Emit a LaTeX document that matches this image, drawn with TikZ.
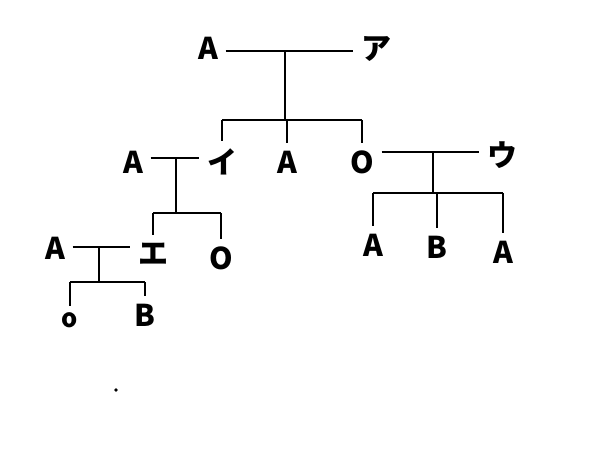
\documentclass[tikz,border=0pt]{standalone}
\usepackage{fontspec}
\newfontfamily\jpfont{Noto Sans CJK JP}
\usetikzlibrary{calc}

\begin{document}
\begin{tikzpicture}[x=1pt,y=-1pt,line width=1.6pt,
    person/.style={font=\jpfont\bfseries\fontsize{30}{30}\selectfont,inner sep=7pt}]
      \useasboundingbox (0,0) rectangle (600,468);

      \node[person] (g1) at (208,48) {A};
      \node[person] (g2) at (376,49) {ア};
      \node[person] (c1) at (222,162) {イ};
      \node[person] (c2) at (287,162) {A};
      \node[person] (c3) at (362,162) {O};
      \node[person] (s1) at (133,162) {A};
      \node[person] (s3) at (502,155) {ウ};
      \node[person] (d1) at (153,254) {エ};
      \node[person] (d2) at (221,258) {O};
      \node[person] (s4) at (55,248) {A};
      \node[person,scale=0.85] (e1) at (70,320) {o};
      \node[person] (e2) at (145,315) {B};
      \node[person] (f1) at (373,245) {A};
      \node[person] (f2) at (437,247) {B};
      \node[person] (f3) at (503,252) {A};

      \coordinate (m1) at (285,51);  \coordinate (b1) at (285,120);
      \coordinate (m2) at (176,158); \coordinate (b2) at (176,213);
      \coordinate (m3) at (99,247);  \coordinate (b3) at (99,282);
      \coordinate (m4) at (433,152); \coordinate (b4) at (433,193);

      \draw (g1.east |- m1) -- (g2.west |- m1);
      \draw (m1) -- (b1);
      \draw (c1 |- b1) -- (c3 |- b1);
      \draw (c1 |- b1) -- (c1.north);
      \draw (c2 |- b1) -- (c2.north);
      \draw (c3 |- b1) -- (c3.north);

      \draw (s1.east |- m2) -- (c1.west |- m2);
      \draw (m2) -- (b2);
      \draw (d1 |- b2) -- (d2 |- b2);
      \draw (d1 |- b2) -- (d1.north);
      \draw (d2 |- b2) -- (d2.north);

      \draw (s4.east |- m3) -- (d1.west |- m3);
      \draw (m3) -- (b3);
      \draw (e1 |- b3) -- (e2 |- b3);
      \draw (e1 |- b3) -- (e1.north);
      \draw (e2 |- b3) -- (e2.north);

      \draw (c3.east |- m4) -- (s3.west |- m4);
      \draw (m4) -- (b4);
      \draw (f1 |- b4) -- (f3 |- b4);
      \draw (f1 |- b4) -- (f1.north);
      \draw (f2 |- b4) -- (f2.north);
      \draw (f3 |- b4) -- (f3.north);

      \fill (116,390) circle (1.8pt);
  \end{tikzpicture}
\end{document}
